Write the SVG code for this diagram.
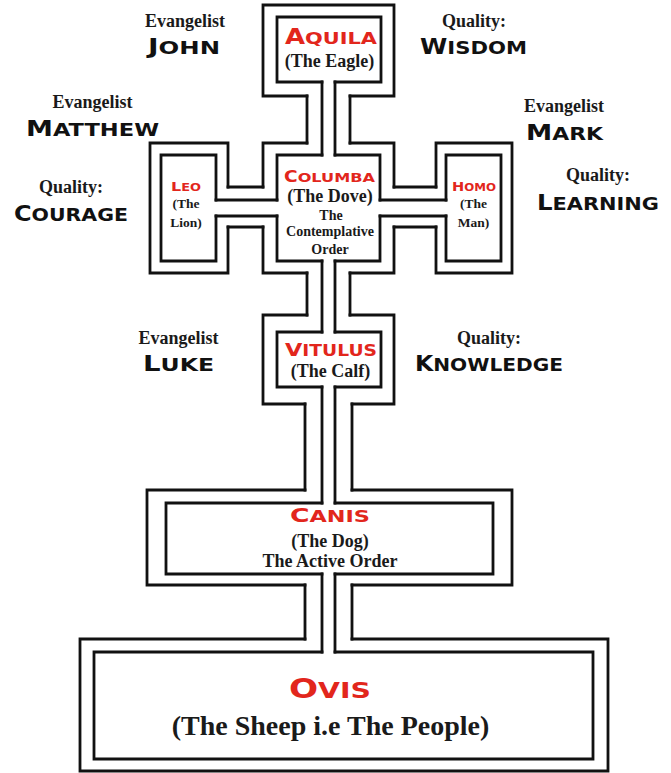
<svg xmlns="http://www.w3.org/2000/svg" width="671" height="773" viewBox="0 0 671 773">
  <style>
    .wall { fill: none; stroke: #111; stroke-width: 2.8; stroke-linecap: square; stroke-linejoin: miter; }
    .serif { font-family: "Liberation Serif", "Times New Roman", serif; font-weight: bold; fill: #1a1a1a; text-anchor: middle; }
    .cap { font-family: "DejaVu Sans", "Liberation Sans", sans-serif; font-weight: bold; fill: #111; }
    .red { fill: #e2261c; }
  </style>
  <rect width="671" height="773" fill="#fff"/>

  <!-- connectors: double-walled channels between the frames -->
  <g id="connectors" class="wall">
    <path d="M307,96 V143 M350,96 V143 M322,82 V155 M335,82 V155"/>
    <path d="M228,187 H263 M228,227 H263 M216,200 H277 M216,216 H277"/>
    <path d="M394,187 H436 M394,227 H436 M380,200 H446 M380,216 H446"/>
    <path d="M307,273 V315 M350,273 V315 M322,261 V332 M335,261 V332"/>
    <path d="M305,404 V490 M352,404 V490 M322,387 V503 M335,387 V503"/>
    <path d="M305,585 V639 M352,585 V639 M322,574 V652 M335,574 V652"/>
  </g>

  <g id="aquila">
    <path class="wall" d="M307,96 H263 V5 H394 V96 H350 M322,82 H277 V17 H381 V82 H335"/>
    <text class="cap red" x="285" y="44" textLength="92" lengthAdjust="spacingAndGlyphs"><tspan font-size="20.5">A</tspan><tspan font-size="16.5">QUILA</tspan></text>
    <text class="serif" x="329.5" y="67" font-size="18">(The Eagle)</text>
  </g>

  <g id="columba">
    <path class="wall" d="M263,187 V143 H307 M350,143 H394 V187 M394,227 V273 H350 M307,273 H263 V227 M277,200 V155 H322 M335,155 H380 V200 M380,216 V261 H335 M322,261 H277 V216"/>
    <text class="cap red" x="284" y="182" textLength="91" lengthAdjust="spacingAndGlyphs"><tspan font-size="15">C</tspan><tspan font-size="13">OLUMBA</tspan></text>
    <text class="serif" x="330" y="202" font-size="18">(The Dove)</text>
    <text class="serif" x="331" y="220" font-size="14">The</text>
    <text class="serif" x="330" y="236" font-size="14">Contemplative</text>
    <text class="serif" x="330" y="254" font-size="14">Order</text>
  </g>

  <g id="leo">
    <path class="wall" d="M228,187 V143 H150 V273 H228 V227 M216,200 V155 H161 V261 H216 V216"/>
    <text class="cap red" x="171" y="191" textLength="30" lengthAdjust="spacingAndGlyphs"><tspan font-size="13">L</tspan><tspan font-size="10.5">EO</tspan></text>
    <text class="serif" x="186" y="208" font-size="13.5">(The</text>
    <text class="serif" x="186" y="227" font-size="13.5">Lion)</text>
  </g>

  <g id="homo">
    <path class="wall" d="M436,187 V143 H512 V273 H436 V227 M446,200 V155 H501 V261 H446 V216"/>
    <text class="cap red" x="452" y="191" textLength="44" lengthAdjust="spacingAndGlyphs"><tspan font-size="13">H</tspan><tspan font-size="10.5">OMO</tspan></text>
    <text class="serif" x="473.5" y="208" font-size="13.5">(The</text>
    <text class="serif" x="473.5" y="227" font-size="13.5">Man)</text>
  </g>

  <g id="vitulus">
    <path class="wall" d="M307,315 H263 V404 H305 M352,404 H394 V315 H350 M322,332 H277 V387 H322 M335,387 H381 V332 H335"/>
    <text class="cap red" x="285" y="356" textLength="92" lengthAdjust="spacingAndGlyphs"><tspan font-size="18">V</tspan><tspan font-size="15">ITULUS</tspan></text>
    <text class="serif" x="330.5" y="377" font-size="18">(The Calf)</text>
  </g>

  <g id="canis">
    <path class="wall" d="M305,490 H147 V585 H305 M352,585 H512 V490 H352 M322,503 H166 V574 H322 M335,574 H493 V503 H335"/>
    <text class="cap red" x="290" y="522" textLength="80" lengthAdjust="spacingAndGlyphs"><tspan font-size="19">C</tspan><tspan font-size="16">ANIS</tspan></text>
    <text class="serif" x="330" y="547" font-size="18">(The Dog)</text>
    <text class="serif" x="330" y="567" font-size="18">The Active Order</text>
  </g>

  <g id="ovis">
    <path class="wall" d="M305,639 H80 V771 H608 V639 H352 M322,652 H94 V759 H593 V652 H335"/>
    <text class="cap red" x="289" y="698" textLength="82" lengthAdjust="spacingAndGlyphs"><tspan font-size="26">O</tspan><tspan font-size="21.5">VIS</tspan></text>
    <text class="serif" x="330.5" y="735" font-size="28">(The Sheep i.e The People)</text>
  </g>

  <!-- side labels: evangelists and qualities -->
  <g id="label-john">
    <text class="serif" x="185" y="27" font-size="18">Evangelist</text>
    <text class="cap" x="148" y="54" textLength="72" lengthAdjust="spacingAndGlyphs"><tspan font-size="20.5">J</tspan><tspan font-size="17.5">OHN</tspan></text>
  </g>
  <g id="label-wisdom">
    <text class="serif" x="474" y="27" font-size="18">Quality:</text>
    <text class="cap" x="420" y="54" textLength="107" lengthAdjust="spacingAndGlyphs"><tspan font-size="20.5">W</tspan><tspan font-size="17.5">ISDOM</tspan></text>
  </g>
  <g id="label-matthew">
    <text class="serif" x="92.5" y="108" font-size="18">Evangelist</text>
    <text class="cap" x="26" y="136" textLength="133" lengthAdjust="spacingAndGlyphs"><tspan font-size="21">M</tspan><tspan font-size="17.5">ATTHEW</tspan></text>
  </g>
  <g id="label-mark">
    <text class="serif" x="564" y="112" font-size="18">Evangelist</text>
    <text class="cap" x="526" y="140" textLength="77" lengthAdjust="spacingAndGlyphs"><tspan font-size="21">M</tspan><tspan font-size="17.5">ARK</tspan></text>
  </g>
  <g id="label-courage">
    <text class="serif" x="71" y="193" font-size="18">Quality:</text>
    <text class="cap" x="14" y="221" textLength="114" lengthAdjust="spacingAndGlyphs"><tspan font-size="20.5">C</tspan><tspan font-size="17.5">OURAGE</tspan></text>
  </g>
  <g id="label-learning">
    <text class="serif" x="598" y="181" font-size="18">Quality:</text>
    <text class="cap" x="537" y="210" textLength="122" lengthAdjust="spacingAndGlyphs"><tspan font-size="20.5">L</tspan><tspan font-size="17.5">EARNING</tspan></text>
  </g>
  <g id="label-luke">
    <text class="serif" x="178.5" y="344" font-size="18">Evangelist</text>
    <text class="cap" x="143" y="371" textLength="71" lengthAdjust="spacingAndGlyphs"><tspan font-size="20.5">L</tspan><tspan font-size="17.5">UKE</tspan></text>
  </g>
  <g id="label-knowledge">
    <text class="serif" x="489" y="344" font-size="18">Quality:</text>
    <text class="cap" x="415" y="371" textLength="148" lengthAdjust="spacingAndGlyphs"><tspan font-size="20.5">K</tspan><tspan font-size="17.5">NOWLEDGE</tspan></text>
  </g>
</svg>
